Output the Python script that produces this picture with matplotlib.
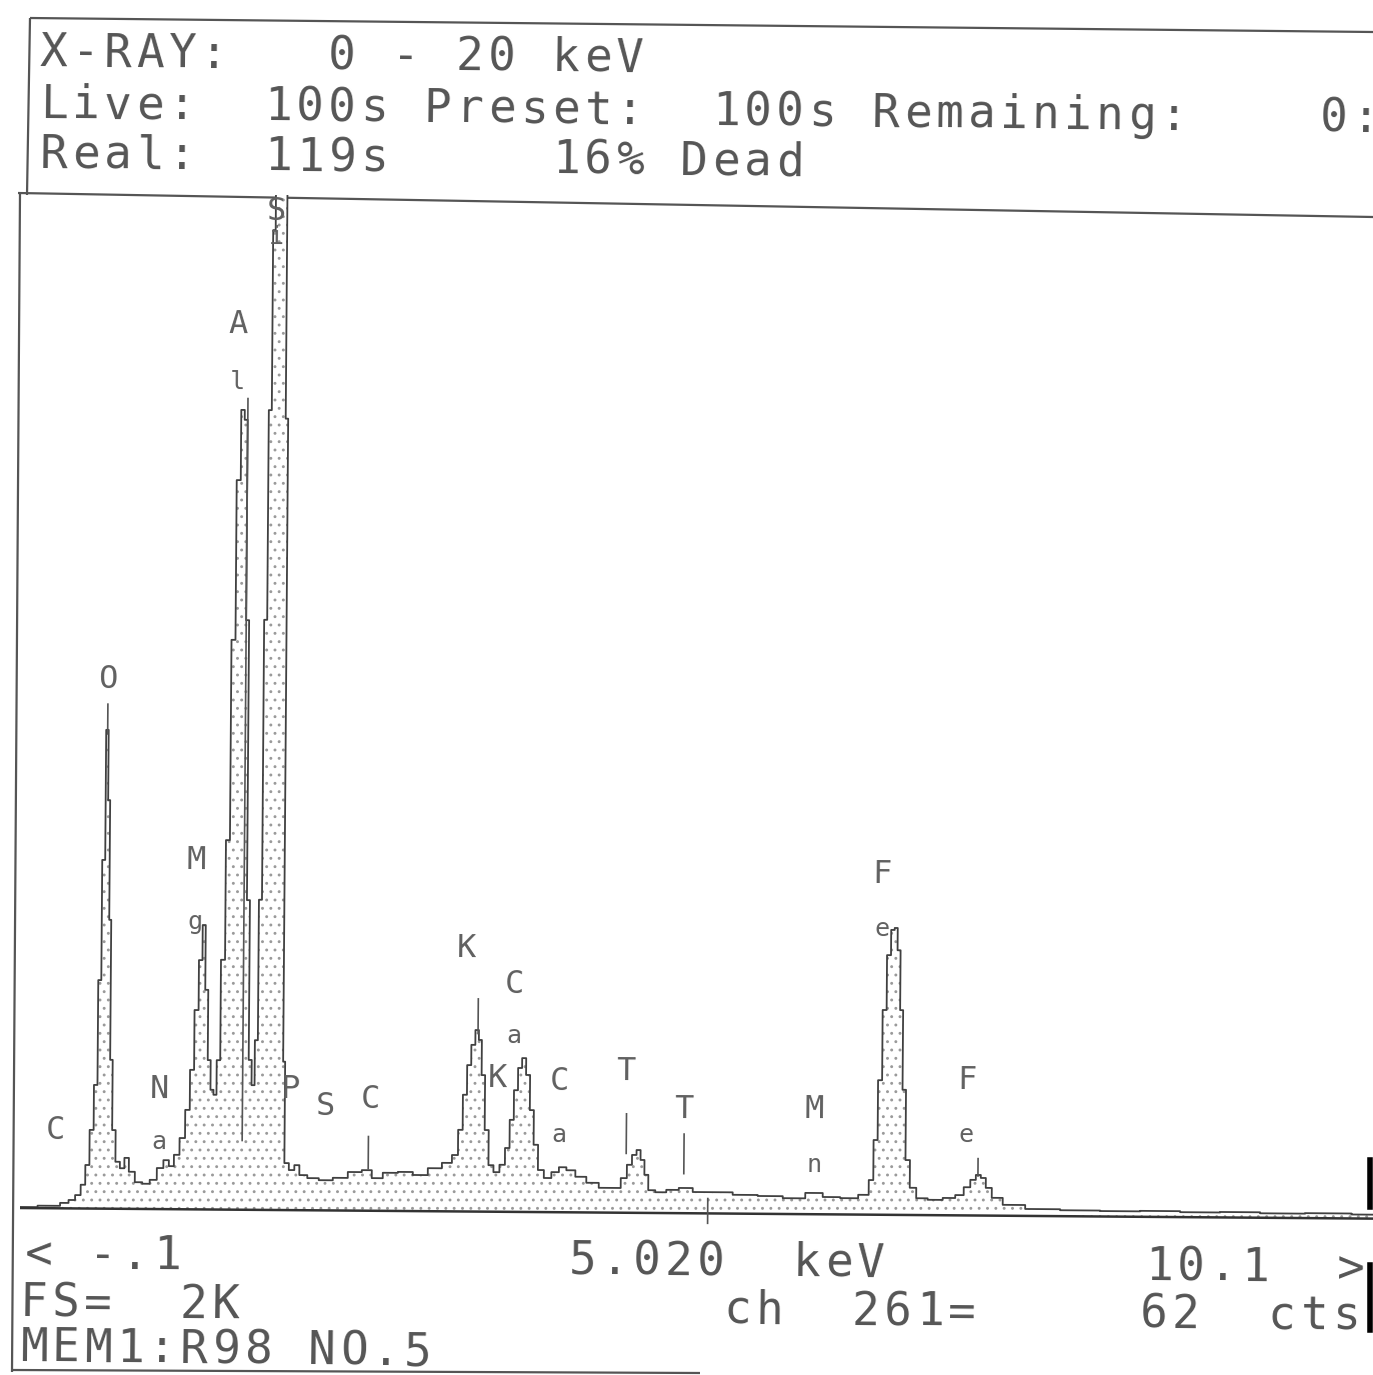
import matplotlib
matplotlib.use("Agg")
import matplotlib.pyplot as plt
import numpy as np
from matplotlib.transforms import Affine2D

# Figure size in pixels (dpi 100)
W, H = 1373, 1375
DPI = 100

# Spectrum: energy (keV) and counts (FS = 2K)
energy_kev = [-0.100, 0.161, 0.235, 0.287, 0.332, 0.369, 0.399, 0.429, 0.458, 0.481,
              0.503, 0.525, 0.540, 0.555, 0.570, 0.593, 0.622, 0.660, 0.689, 0.727,
              0.779, 0.838, 0.890, 0.943, 0.987, 1.024, 1.062, 1.106, 1.143, 1.173,
              1.203, 1.233, 1.255, 1.278, 1.300, 1.322, 1.345, 1.367, 1.397, 1.427,
              1.456, 1.486, 1.516, 1.538, 1.560, 1.583, 1.605, 1.628, 1.650, 1.672,
              1.695, 1.717, 1.739, 1.754, 1.776, 1.799, 1.821, 1.843, 1.858, 1.873,
              1.925, 1.955, 2.000, 2.074, 2.171, 2.283, 2.394, 2.491, 2.543, 2.655,
              2.767, 2.878, 2.990, 3.087, 3.139, 3.176, 3.206, 3.236, 3.266, 3.295,
              3.318, 3.340, 3.370, 3.400, 3.445, 3.489, 3.526, 3.556, 3.586, 3.615,
              3.645, 3.675, 3.705, 3.735, 3.772, 3.824, 3.884, 3.936, 3.995, 4.070,
              4.159, 4.256, 4.345, 4.397, 4.435, 4.472, 4.502, 4.532, 4.561, 4.591,
              4.666, 4.755, 4.852, 4.963, 5.112, 5.298, 5.485, 5.671, 5.820, 5.931,
              6.080, 6.199, 6.236, 6.266, 6.296, 6.326, 6.355, 6.385, 6.407, 6.430,
              6.452, 6.475, 6.504, 6.542, 6.601, 6.713, 6.825, 6.899, 6.951, 6.996,
              7.033, 7.070, 7.108, 7.160, 7.272, 7.495, 7.793, 8.091, 8.389, 8.686,
              8.984, 9.282, 9.654, 9.974]
counts = [2, 5, 11, 17, 27, 48, 88, 159, 250, 462,
          705, 968, 826, 584, 301, 159, 95, 82, 103, 75,
          54, 51, 59, 83, 99, 87, 110, 144, 201, 282,
          403, 504, 575, 444, 302, 242, 232, 302, 505, 747,
          1152, 1475, 1617, 1597, 1192, 626, 303, 252, 343, 627,
          1193, 1617, 1981, 2400, 2400, 2400, 2400, 1600, 300, 95,
          81, 91, 71, 65, 61, 66, 78, 82, 66, 77,
          79, 73, 87, 98, 114, 165, 236, 296, 337, 367,
          347, 276, 165, 94, 80, 95, 129, 186, 246, 291,
          311, 277, 206, 136, 85, 69, 81, 91, 85, 72,
          60, 50, 50, 70, 97, 117, 127, 107, 77, 46,
          42, 47, 51, 43, 43, 38, 36, 32, 43, 35,
          33, 40, 70, 151, 272, 414, 525, 576, 580, 535,
          414, 253, 111, 55, 34, 31, 35, 41, 57, 72,
          82, 76, 56, 36, 22, 14, 12, 11, 12, 10,
          11, 9, 10, 8]

# Element labels: upper letter, lower letter, energy (keV)
label_top = ["C", "O", "N", "M", "A", "S", "P", "S", "C", "K", "C", "K", "C", "T", "T", "M", "F", "F"]
label_low = ["", "", "a", "g", "l", "i", "", "", "", "", "a", "", "a", "", "", "n", "e", "e"]
label_kev = [0.16, 0.52, 0.93, 1.19, 1.47, 1.75, 1.91, 2.17, 2.50, 3.21, 3.57, 3.45, 3.91, 4.40, 4.84, 5.81, 6.30, 6.94]
# label heights in counts (layout)
label_top_y = [158, 1069, 241, 706, 1790, 2019, 243, 209, 225, 531, 460, 269, 264, 286, 209, 211, 688, 273]
label_low_y = [0, 0, 136, 581, 1674, 1967, 0, 0, 0, 0, 355, 0, 157, 0, 0, 100, 577, 162]

# marker ticks: energy, top count, bottom count
marker_kev = [0.525, 1.55, 3.30, 2.49, 4.41, 4.84, 7.03, 5.02]
marker_top = [1020, 1640, 430, 150, 200, 160, 115, 30]
marker_bot = [960, 140, 360, 85, 120, 80, 80, -20]

header_lines = ["X-RAY:   0 - 20 keV",
                "Live:  100s Preset:  100s Remaining:    0:00",
                "Real:  119s     16% Dead"]
footer_lines = ["< -.1            5.020  keV        10.1  >",
                "FS=  2K               ch  261=     62  cts",
                "MEM1:R98 NO.5"]

plt.rcParams['hatch.color'] = '#9a9a9a'
plt.rcParams['hatch.linewidth'] = 0.9

fig = plt.figure(figsize=(W / DPI, H / DPI), dpi=DPI)
fig.patch.set_facecolor('white')

# pixel-space axes for the frame and printed text
bg = fig.add_axes([0, 0, 1, 1])
bg.set_xlim(0, W)
bg.set_ylim(H, 0)
bg.axis('off')

frame_kw = dict(color='#555555', lw=1.6, solid_capstyle='butt')
bg.plot([30, 1373], [18, 32], **frame_kw)
bg.plot([30, 27], [18, 195], **frame_kw)
bg.plot([18, 1373], [193, 217], **frame_kw)
bg.plot([20, 12], [193, 1372], **frame_kw)
bg.plot([12, 700], [1370, 1373], **frame_kw)
bg.plot([1370, 1370], [1160, 1207], color='black', lw=4)
bg.plot([1370, 1370], [1265, 1330], color='black', lw=4)

# printer text: fixed 32 px character pitch, tilted like the scan
PITCH = 32
SLOPE = np.tan(np.radians(0.6))
char_kw = dict(family='DejaVu Sans Mono', fontsize=33, color='#555555',
               rotation=-0.6, rotation_mode='anchor', ha='left', va='baseline')


def print_line(s, x0, y0):
    for k, ch in enumerate(s):
        if ch == ' ':
            continue
        x = x0 + k * PITCH
        if x > W:
            break
        bg.text(x, y0 + (x - x0) * SLOPE, ch, **char_kw)


for line, yb in zip(header_lines, [66, 118, 168]):
    print_line(line, 40, yb)
for line, (xl, yb) in zip(footer_lines, [(25, 1268), (20, 1316), (20, 1361)]):
    print_line(line, xl, yb)

# spectrum axes, slightly tilted like the scanned print
y_lo, y_hi = -40, 2048
px_per_count = 0.4946
top_px = 195
bot_px = 1208 + (-y_lo) * px_per_count
ax = fig.add_axes([20 / W, (H - bot_px) / H, 1370 / W, (bot_px - top_px) / H])
ax.set_xlim(-0.1, 10.1)
ax.set_ylim(y_lo, y_hi)
ax.axis('off')
ax.patch.set_alpha(0)

tilt = Affine2D().rotate_deg_around(20, H - 1208, -0.45)
tr = ax.transData + tilt

ax.fill_between(energy_kev, counts, 0, step='mid', facecolor='white',
                edgecolor='none', hatch='..', transform=tr)
ax.plot(energy_kev, counts, drawstyle='steps-mid', color='#404040', lw=1.3, transform=tr)
ax.plot([-0.1, 10.1], [0, 0], color='#333333', lw=1.8, transform=tr)

for e, t, b in zip(marker_kev, marker_top, marker_bot):
    ax.plot([e, e], [b, t], color='#555555', lw=1.2, transform=tr)

lab_kw = dict(family='DejaVu Sans Mono', color='#606060', ha='center', va='center',
              rotation=-0.45, transform=tr)
for t, l, e, yt, yl in zip(label_top, label_low, label_kev, label_top_y, label_low_y):
    ax.text(e, yt, t, fontsize=23, **lab_kw)
    if l:
        ax.text(e, yl, l, fontsize=18, **lab_kw)

fig.savefig("out.png", dpi=DPI, facecolor='white')
